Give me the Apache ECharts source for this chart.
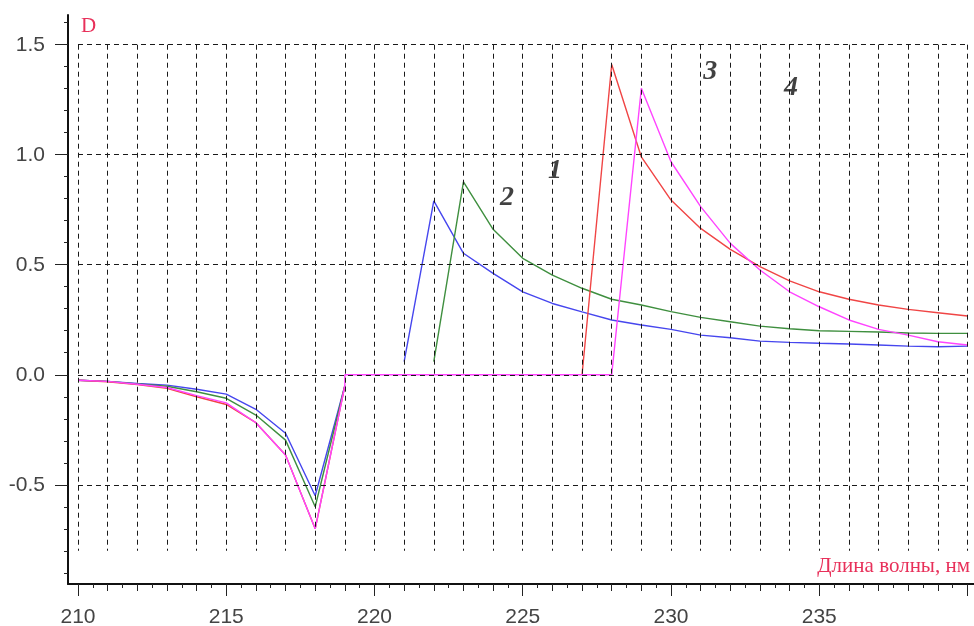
<!DOCTYPE html>
<html>
<head>
<meta charset="utf-8">
<script src="https://cdn.jsdelivr.net/npm/echarts@6/dist/echarts.min.js"></script>
<style>
html,body{margin:0;padding:0;background:#fff;}
#chart{width:974px;height:626px;}
</style>
</head>
<body>
<div id="chart"></div>
<script>
// ---- data (wavelength nm, optical density D) ----
var blueData = [[210,-0.025],[211,-0.03],[212,-0.04],[213,-0.047],[214,-0.066],[215,-0.088],[216,-0.157],[217,-0.266],[218,-0.55],[219,-0.05],[220,null],
  [221,0.06],[222,0.79],[223,0.552],[224,0.461],[225,0.377],[226,0.324],[227,0.286],[228,0.249],[229,0.226],[230,0.206],[231,0.18],[232,0.168],[233,0.153],[234,0.147],[235,0.143],[236,0.14],[237,0.135],[238,0.13],[239,0.127],[240,0.13]];
var greenData = [[210,-0.025],[211,-0.03],[212,-0.042],[213,-0.052],[214,-0.077],[215,-0.107],[216,-0.183],[217,-0.297],[218,-0.60],[219,-0.05],[220,null],
  [222,0.06],[223,0.877],[224,0.661],[225,0.529],[226,0.453],[227,0.393],[228,0.343],[229,0.317],[230,0.287],[231,0.261],[232,0.241],[233,0.221],[234,0.209],[235,0.2],[236,0.197],[237,0.194],[238,0.19],[239,0.188],[240,0.188]];
var redData = [[210,-0.025],[211,-0.032],[212,-0.045],[213,-0.062],[214,-0.1],[215,-0.135],[216,-0.218],[217,-0.365],[218,-0.70],[219,-0.05],[220,null],
  [227,0],[228,1.41],[229,0.99],[230,0.794],[231,0.665],[232,0.57],[233,0.491],[234,0.427],[235,0.377],[236,0.343],[237,0.317],[238,0.297],[239,0.282],[240,0.267]];
var magentaData = [[210,-0.025],[211,-0.03],[212,-0.043],[213,-0.058],[214,-0.095],[215,-0.128],[216,-0.218],[217,-0.365],[218,-0.70],[219,-0.05],
  [219,0],[220,0],[221,0],[222,0],[223,0],[224,0],[225,0],[226,0],[227,0],[228,0],[229,1.302],[230,0.968],[231,0.764],[232,0.597],[233,0.476],[234,0.377],[235,0.309],[236,0.249],[237,0.206],[238,0.18],[239,0.15],[240,0.135]];

// curve number annotations [x, y, text]
var curveLabels = [[226.09,0.926,'1'],[224.47,0.804,'2'],[231.32,1.376,'3'],[234.05,1.304,'4']];

// ticks
var xLabelTicks = [210,215,220,225,230,235];
var xMajorTicks = [210,215,220,225,230,235,240];
var xIntTicks = [210,211,212,213,214,215,216,217,218,219,220,221,222,223,224,225,226,227,228,229,230,231,232,233,234,235,236,237,238,239,240];
var xHalfTicks = [210.5,211.5,212.5,213.5,214.5,215.5,216.5,217.5,218.5,219.5,220.5,221.5,222.5,223.5,224.5,225.5,226.5,227.5,228.5,229.5,230.5,231.5,232.5,233.5,234.5,235.5,236.5,237.5,238.5,239.5];
var yMajorTicks = [-0.5,0,0.5,1.0,1.5];
var yMinorTicks = [-0.9,-0.8,-0.7,-0.6,-0.4,-0.3,-0.2,-0.1,0.1,0.2,0.3,0.4,0.6,0.7,0.8,0.9,1.1,1.2,1.3,1.4,1.6];
// dashed grid positions
var gridX = xIntTicks;
var gridY = [-0.5,0,0.5,1.0,1.5];
var gridXRange = [210,240];
var gridYRange = [-0.8,1.5];

var X_MIN = 209.663, X_MAX = 240.219, Y_MIN = -0.951, Y_MAX = 1.635;

var gridLines = [];
gridX.forEach(function(x){ gridLines.push([{coord:[x,gridYRange[1]]},{coord:[x,gridYRange[0]]}]); });
gridY.forEach(function(y){ gridLines.push([{coord:[gridXRange[0],y]},{coord:[gridXRange[1],y]}]); });

var tickFont = {fontFamily:'Liberation Sans', fontSize:21, color:'#444'};
function xAx(ticks, len, extra){
  return Object.assign({
    type:'value', position:'bottom', min:X_MIN, max:X_MAX, gridIndex:0,
    axisLine:{show:false, onZero:false}, splitLine:{show:false},
    axisTick:{show:true, customValues:ticks, length:len, lineStyle:{color:'#222', width:1}},
    axisLabel:{show:false}
  }, extra||{});
}
function yAx(ticks, len, extra){
  return Object.assign({
    type:'value', position:'left', min:Y_MIN, max:Y_MAX, gridIndex:0,
    axisLine:{show:false, onZero:false}, splitLine:{show:false},
    axisTick:{show:true, customValues:ticks, length:len, lineStyle:{color:'#222', width:1}},
    axisLabel:{show:false}
  }, extra||{});
}

var chart = echarts.init(document.getElementById('chart'), null, {renderer:'canvas'});
var lw = 1.4;
chart.setOption({
  animation:false,
  backgroundColor:'#fff',
  grid:{left:68, right:0, top:15, bottom:42, containLabel:false, outerBoundsMode:'none'},
  xAxis:[
    xAx(xMajorTicks, 12, {
      axisLine:{show:true, onZero:false, lineStyle:{color:'#111', width:2}},
      axisLabel:{show:true, customValues:xLabelTicks, margin:23, fontFamily:tickFont.fontFamily, fontSize:tickFont.fontSize, color:tickFont.color}
    }),
    xAx(xIntTicks, 7),
    xAx(xHalfTicks, 4)
  ],
  yAxis:[
    yAx(yMajorTicks, 13, {
      axisLine:{show:true, onZero:false, lineStyle:{color:'#111', width:2}},
      axisLabel:{show:true, customValues:yMajorTicks, margin:23, fontFamily:tickFont.fontFamily, fontSize:tickFont.fontSize, color:tickFont.color,
        formatter:function(v){ return v.toFixed(1); }}
    }),
    yAx(yMinorTicks, 4)
  ],
  graphic:[
    {type:'text', left:81, top:16, style:{text:'D', font:'21px "Liberation Serif"', fill:'#e8305a'}},
    {type:'text', right:4, top:556, style:{text:'Длина волны, нм', font:'21px "Liberation Serif"', fill:'#e8305a'}}
  ],
  series:[
    {type:'line', name:'grid', data:[[210,0]], symbol:'none', lineStyle:{opacity:0}, z:1, silent:true,
      markLine:{silent:true, symbol:['none','none'], label:{show:false}, animation:false,
        lineStyle:{color:'#1a1a1a', width:1, type:[5,4]}, emphasis:{disabled:true}, data:gridLines}},
    {type:'line', name:'blue', data:blueData, symbol:'none', connectNulls:false, z:3, lineStyle:{color:'#4646ee', width:lw}},
    {type:'line', name:'green', data:greenData, symbol:'none', connectNulls:false, z:3, lineStyle:{color:'#3f8f3f', width:lw}},
    {type:'line', name:'red', data:redData, symbol:'none', connectNulls:false, z:3, lineStyle:{color:'#f04545', width:lw}},
    {type:'line', name:'magenta', data:magentaData, symbol:'none', connectNulls:false, z:4, lineStyle:{color:'#ff44ff', width:lw}},
    {type:'scatter', name:'labels', data:curveLabels, symbolSize:0, z:5, silent:true,
      label:{show:true, position:'inside', formatter:function(p){return p.value[2];},
        fontFamily:'Liberation Serif', fontStyle:'italic', fontWeight:'bold', fontSize:28, color:'#111'}}
  ]
});
</script>
</body>
</html>
